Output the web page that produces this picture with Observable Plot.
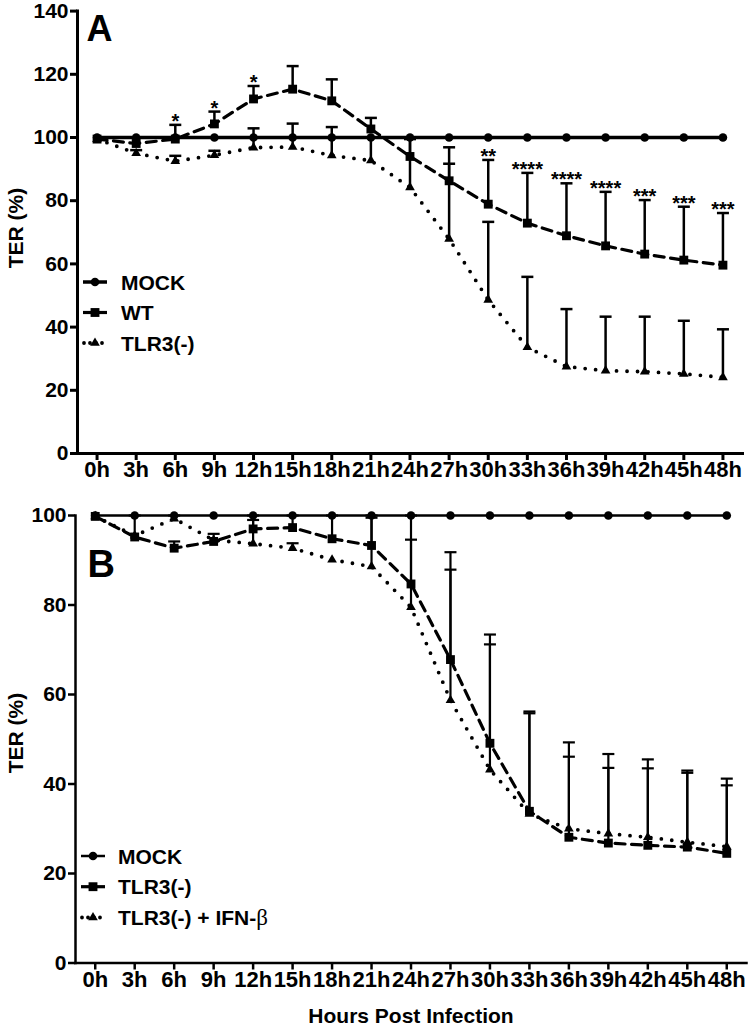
<!DOCTYPE html>
<html><head><meta charset="utf-8">
<script src="https://cdn.jsdelivr.net/npm/d3@7"></script>
<script src="https://cdn.jsdelivr.net/npm/@observablehq/plot@0.6"></script>
<style>
body{margin:0;background:#fff;}
#wrap{position:relative;width:750px;height:1027px;overflow:hidden;}
#wrap > svg{display:block;}
#legend{position:absolute;left:0;top:0;pointer-events:none;}
</style></head><body><div id="wrap"></div>
<script>
// ---------- data ----------
const hours = [0,3,6,9,12,15,18,21,24,27,30,33,36,39,42,45,48];
const tickLabels = ["0h","3h","6h","9h","12h","15h","18h","21h","24h","27h","30h","33h","36h","39h","42h","45h","48h"];
const yTicksA = [0,20,40,60,80,100,120,140];
const yTicksB = [0,20,40,60,80,100];

// Panel A
const mockA      = [100,100,100,100,100,100,100,100,100,100,100,100,100,100,100,100,100];
const mockAUpper = [100,100,100,100,102.9,104.4,103.3,100,100,100,100,100,100,100,100,100,100];
const wtA        = [99.5,98.1,99.5,104.3,112.2,115.3,111.6,102.7,94.0,86.3,78.9,72.9,68.9,65.7,63.1,61.2,59.6];
const wtAUpper   = [99.5,98.1,104.0,108.2,116.3,122.6,118.4,106.2,99.5,96.9,92.9,88.8,85.5,82.8,80.2,78.1,76.1];
const tlr3A      = [99.5,95.0,92.5,94.4,96.8,97.0,94.3,92.7,84.2,67.9,48.6,33.6,27.5,26.2,25.9,25.2,24.1];
const tlr3AUpper = [99.5,96.0,94.2,95.8,100,100,100,100,100,91.7,73.3,55.9,45.7,43.3,43.3,42.0,39.3];
const starsA     = ["","","*","*","*","","","","","","**","****","****","****","***","***","***"];

// Panel B
const mockB      = [100,100,100,100,100,100,100,100,100,100,100,100,100,100,100,100,100];
const tlr3B      = [99.8,95.2,92.7,94.2,97.0,97.3,94.8,93.3,84.7,67.8,49.1,33.9,28.1,26.8,26.3,25.9,24.5];
const tlr3BUpper = [99.8,100,94.2,95.9,100,100,100,100,100,91.8,73.4,56.2,46.1,43.6,43.5,42.5,39.7];
const ifnB       = [99.8,95.5,99.3,94.5,93.7,92.7,90.1,88.6,79.5,58.7,43.2,33.3,30.0,28.9,28.1,27.0,26.0];
const ifnBUpper  = [99.8,95.5,100,94.5,99,93.8,90.1,99.5,94.6,87.9,71.2,55.8,49.3,46.7,45.5,43.0,41.2];

const legendA = ["MOCK","WT","TLR3(-)"];
const legendB = ["MOCK","TLR3(-)","TLR3(-) + IFN-β"];
const yLabel = "TER (%)";
const xLabel = "Hours Post Infection";

// ---------- styles ----------
const FONT = "'Liberation Sans', Arial, Helvetica, sans-serif";
const capSym = {draw(ctx){ ctx.moveTo(-6,0); ctx.lineTo(6,0); }};
const DOTS = "0,10.5";
const stA = {
  mock: {symbol:"circle", r:4.3, lw:3.5, dash:null, bw:2.5},
  wt:   {symbol:"square", r:5.0, lw:3.2, dash:"10,6.5", bw:2.5},
  tlr3: {symbol:"triangle", r:3.6, lw:3.8, dash:DOTS, cap:"round", bw:2.5}
};
const stB = {
  mock: {symbol:"circle", r:4.3, lw:2.5, dash:null, bw:2.2},
  tlr3: {symbol:"square", r:5.0, lw:3.2, dash:"10,6.5", bw:2.2},
  ifn:  {symbol:"triangle", r:3.6, lw:3.8, dash:DOTS, cap:"round", bw:2.2}
};

function rows(mean, upper){ return hours.map((h,i)=>({h, v:mean[i], up: upper ? upper[i] : mean[i]})); }
function barMarks(data, st){
  const bars = data.filter(d => d.up > d.v + 0.05);
  return [
    Plot.ruleX(bars, {x:"h", y1:"v", y2:"up", stroke:"black", strokeWidth:st.bw}),
    Plot.dot(bars, {x:"h", y:"up", symbol:capSym, r:3, stroke:"black", fill:"none", strokeWidth:st.bw})
  ];
}
function lineMark(data, st){
  const o = {x:"h", y:"v", stroke:"black", strokeWidth:st.lw};
  if (st.dash) o.strokeDasharray = st.dash;
  if (st.cap) o.strokeLinecap = st.cap;
  return Plot.line(data, o);
}
function dotMark(data, st){
  return Plot.dot(data, {x:"h", y:"v", symbol:st.symbol, r:st.r, fill:"black", stroke:"none"});
}
const xTickFmt = d => tickLabels[hours.indexOf(d)];

// ---------- panel A ----------
const dA = {mock: rows(mockA, mockAUpper), wt: rows(wtA, wtAUpper), tlr3: rows(tlr3A, tlr3AUpper)};
const starRows = dA.wt.map((d,i)=>({...d, s: starsA[i]})).filter(d=>d.s);

const chartA = Plot.plot({
  width:750, height:490,
  marginTop:10.6, marginBottom:37, marginLeft:77, marginRight:8,
  x:{domain:[-1.5,49.5]}, y:{domain:[0,140]},
  style:{fontFamily:FONT, color:"black", background:"white", overflow:"visible"},
  marks:[
    ...barMarks(dA.tlr3, stA.tlr3), ...barMarks(dA.wt, stA.wt), ...barMarks(dA.mock, stA.mock),
    lineMark(dA.tlr3, stA.tlr3), lineMark(dA.wt, stA.wt), lineMark(dA.mock, stA.mock),
    dotMark(dA.tlr3, stA.tlr3), dotMark(dA.wt, stA.wt), dotMark(dA.mock, stA.mock),
    Plot.text(starRows, {x:"h", y:"up", text:"s", lineAnchor:"bottom", dy:3, fontSize:20, fontWeight:"bold"}),
    Plot.frame({anchor:"left", strokeWidth:3}),
    Plot.frame({anchor:"bottom", strokeWidth:3}),
    Plot.axisY(yTicksA, {tickSize:7, tickPadding:2, strokeWidth:3, fontSize:21, fontWeight:"bold", label:null}),
    Plot.axisX(hours, {tickSize:7, tickPadding:1, strokeWidth:3, fontSize:22, fontWeight:"bold", label:null, tickFormat:xTickFmt}),
    Plot.text(["A"], {frameAnchor:"top-left", text:d=>d, textAnchor:"start", lineAnchor:"top", dx:9, dy:4.5, fontSize:36, fontWeight:"bold"})
  ]
});

// ---------- panel B ----------
const dB = {mock: rows(mockB, null), tlr3: rows(tlr3B, tlr3BUpper), ifn: rows(ifnB, ifnBUpper)};
const chartB = Plot.plot({
  width:750, height:537,
  marginTop:25, marginBottom:64.5, marginLeft:75, marginRight:4,
  x:{domain:[-1.5,49.5]}, y:{domain:[0,100]},
  style:{fontFamily:FONT, color:"black", background:"white", overflow:"visible"},
  marks:[
    ...barMarks(dB.ifn, stB.ifn), ...barMarks(dB.tlr3, stB.tlr3),
    lineMark(dB.ifn, stB.ifn), lineMark(dB.tlr3, stB.tlr3), lineMark(dB.mock, stB.mock),
    dotMark(dB.ifn, stB.ifn), dotMark(dB.tlr3, stB.tlr3), dotMark(dB.mock, stB.mock),
    Plot.frame({anchor:"left", strokeWidth:2.5}),
    Plot.frame({anchor:"bottom", strokeWidth:2.5}),
    Plot.axisY(yTicksB, {tickSize:7, tickPadding:2, strokeWidth:2.5, fontSize:21, fontWeight:"bold", label:null}),
    Plot.axisX(hours, {tickSize:7, tickPadding:1, strokeWidth:2.5, fontSize:22, fontWeight:"bold", label:null, tickFormat:xTickFmt}),
    Plot.text(["B"], {frameAnchor:"top-left", text:d=>d, textAnchor:"start", lineAnchor:"top", dx:12, dy:35, fontSize:38, fontWeight:"bold"}),
    Plot.text([xLabel], {frameAnchor:"bottom", text:d=>d, lineAnchor:"bottom", dy:60, fontSize:21, fontWeight:"bold"})
  ]
});

const wrap = document.getElementById("wrap");
wrap.appendChild(chartA);
wrap.appendChild(chartB);

// ---------- legends & y titles (overlay) ----------
const lg = d3.select(wrap).append("svg").attr("id","legend").attr("width",750).attr("height",1027);
function drawLegend(labels, styles, rowY, x0, x1, tx){
  labels.forEach((lab, i) => {
    const st = styles[i], y = rowY[i], xm = (x0 + x1)/2;
    const ln = lg.append("line").attr("x1",x0).attr("x2",x1).attr("y1",y).attr("y2",y)
      .attr("stroke","black").attr("stroke-width",st.lw);
    if (st.cap) ln.attr("stroke-dasharray", "0,6").attr("stroke-linecap","round").attr("x1",x0+1).attr("x2",x1-1);
    const size = st.r*st.r*Math.PI;
    const symType = st.symbol === "circle" ? d3.symbolCircle : st.symbol === "square" ? d3.symbolSquare : d3.symbolTriangle;
    lg.append("path").attr("d", d3.symbol(symType, size)()).attr("transform",`translate(${xm},${y})`).attr("fill","black");
    const t = lg.append("text").attr("x",tx).attr("y",y).attr("dy","0.36em")
      .attr("font-family",FONT).attr("font-size",21).attr("font-weight","bold").attr("fill","black");
    if (lab.endsWith("β")) {
      t.append("tspan").text(lab.slice(0,-1));
      t.append("tspan").attr("font-family","'Liberation Serif', 'DejaVu Serif', serif").attr("font-weight","normal").attr("font-size",23).text("β");
    } else t.text(lab);
  });
}
drawLegend(legendA, [stA.mock, stA.wt, stA.tlr3], [282, 312.5, 343], 83, 107, 121);
drawLegend(legendB, [stB.mock, stB.tlr3, stB.ifn], [856, 886.7, 917.5], 81, 105, 118);

function yTitle(cx, cy){
  lg.append("text").attr("transform",`translate(${cx},${cy}) rotate(-90)`)
    .attr("text-anchor","middle").attr("dy","0.36em")
    .attr("font-family",FONT).attr("font-size",21).attr("font-weight","bold").attr("fill","black")
    .text(yLabel);
}
yTitle(15.5, 228);
yTitle(15.5, 733);
</script></body></html>
